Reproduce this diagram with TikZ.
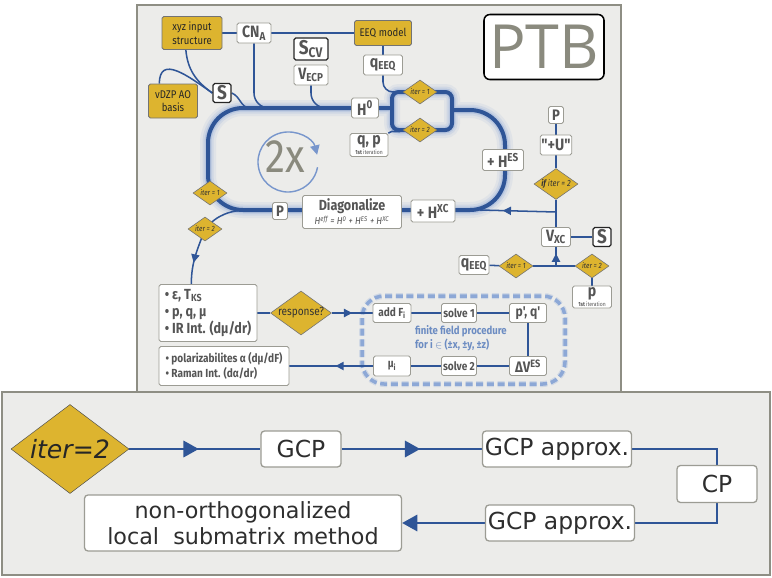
\documentclass[tikz,border=0pt]{standalone}
\usepackage{fontspec}
\setmainfont{DejaVu Sans}
\newfontfamily\cf[FakeStretch=0.86]{Fira Sans}
\newfontfamily\ptbfont{Open Sans}
\usetikzlibrary{arrows.meta,shapes.geometric,decorations.markings}

\definecolor{lineblue}{HTML}{2F5597}
\definecolor{glowblue}{HTML}{8FA9D8}
\definecolor{dashblue}{HTML}{7D9DD3}
\definecolor{ffblue}{HTML}{6C8CC2}
\definecolor{ringblue}{HTML}{7896CC}
\definecolor{gold}{HTML}{DDB42F}
\definecolor{panelfill}{HTML}{ECECEA}
\definecolor{paneldraw}{HTML}{8E8E84}
\definecolor{boxdraw}{HTML}{9C9C94}
\definecolor{txtgray}{HTML}{555555}
\definecolor{ptbgray}{HTML}{8A8A7E}

\pgfdeclarelayer{panel}
\pgfdeclarelayer{wires}
\pgfsetlayers{panel,wires,main}

\newcommand{\pxu}{0.03cm}
\newcommand{\fsz}[2]{\fontsize{#1}{#2}\selectfont}

\tikzset{
  wbox/.style={draw=boxdraw, fill=white, line width=0.7pt, rounded corners=1.5pt,
    inner sep=1pt, align=center, text=txtgray, font=\cf\bfseries\fsz{14}{15}},
  ybox/.style={wbox, fill=gold, draw=black!55, text=black!85, font=\cf\fsz{9.5}{11.5}},
  sbox/.style={wbox, draw=black!85, line width=1.1pt, font=\cf\bfseries\fsz{17}{17}},
  dia/.style={diamond, draw=black!55, fill=gold, line width=0.5pt, inner sep=0pt,
    shape aspect=1.4, minimum width=34*\pxu, minimum height=24*\pxu,
    text=black!80, font=\cf\itshape\fsz{6.5}{7}},
  conn/.style={lineblue, line width=1.3pt},
  midarr/.style={postaction={decorate}, decoration={markings,
    mark=at position #1 with {\arrow{Triangle[length=7pt,width=7pt]}}}},
  gbox/.style={draw=boxdraw, fill=white, line width=1.1pt, rounded corners=3pt,
    inner sep=2pt, align=center, text=black!82, font=\fsz{20}{22}},
  bline/.style={lineblue, line width=1.8pt},
  bigarr/.style={postaction={decorate}, decoration={markings,
    mark=at position #1 with {\arrow{Triangle[length=13pt,width=14pt]}}}},
}

\begin{document}
\begin{tikzpicture}[x=0.03cm, y=0.03cm, line cap=round, line join=round]
  % panels
  \begin{pgfonlayer}{panel}
    \fill[white] (0,0) rectangle (772,-577);
    \draw[fill=panelfill, draw=paneldraw, line width=1.7pt] (137,-5) rectangle (621,-392);
    \draw[fill=panelfill, draw=paneldraw, line width=1.7pt] (2,-392) rectangle (770,-575);
  \end{pgfonlayer}
  \useasboundingbox (0,0) rectangle (772,-577);

  % inputs
  \node[ybox, minimum width=60*\pxu, minimum height=33*\pxu] (xyz) at (192,-33) {xyz input\\structure};
  \node[wbox, minimum width=34*\pxu, minimum height=20*\pxu] (cna) at (254,-33) {CN\textsubscript{A}};
  \node[ybox, minimum width=57*\pxu, minimum height=25*\pxu] (eeq) at (383,-33) {EEQ model};
  \node[sbox, minimum width=34*\pxu, minimum height=22*\pxu] (scv) at (311,-49) {S\textsubscript{CV}};
  \node[wbox, minimum width=34*\pxu, minimum height=20*\pxu] (vecp) at (311,-75) {V\textsubscript{ECP}};
  \node[wbox, minimum width=39*\pxu, minimum height=20*\pxu] (qeeq) at (383,-65) {q\textsubscript{EEQ}};
  \node[ybox, minimum width=49*\pxu, minimum height=34*\pxu] (vdzp) at (173,-101) {vDZP AO\\basis};
  \node[sbox, minimum width=18*\pxu, minimum height=19*\pxu] (sao) at (222,-93) {S};
  \node[wbox, minimum width=27*\pxu, minimum height=20*\pxu] (hzero) at (365,-108) {H\textsuperscript{0}};
  \node[dia] (ita) at (420,-92) {iter = 1};
  \node[dia] (itb) at (420,-130) {iter = 2};
  \node[wbox, minimum width=38*\pxu, minimum height=23*\pxu] (qp) at (369,-145)
    {q, p\\[-6pt]{\fsz{5}{5}1st \mdseries iteration}};

  % loop
  \node[wbox, minimum width=41*\pxu, minimum height=21*\pxu] (hes) at (503,-160) {+ H\textsuperscript{ES}};
  \node[wbox, minimum width=44*\pxu, minimum height=22*\pxu] (hxc) at (433,-211) {+ H\textsuperscript{XC}};
  \node[wbox, minimum width=99*\pxu, minimum height=33*\pxu, font=\cf\bfseries\fsz{12.5}{12}] (diag) at (352,-212)
    {Diagonalize\\{\mdseries\itshape\fsz{8.5}{9}H\textsuperscript{eff} = H\textsuperscript{0} + H\textsuperscript{ES} + H\textsuperscript{XC}}};
  \node[wbox, minimum width=15*\pxu, minimum height=17*\pxu, font=\cf\bfseries\fsz{13}{13}] (pdl) at (280,-211) {P};
  \node[dia] (itl) at (210,-193) {iter = 1};
  \node[dia] (itm) at (205,-229) {iter = 2};
  \node[text=ptbgray, font=\cf\fsz{40}{40}] (twox) at (285,-157) {2x};
  \coordinate (ring) at (288,-162);

  % exchange-correlation
  \node[wbox, minimum width=15*\pxu, minimum height=17*\pxu, font=\cf\bfseries\fsz{13}{13}] (pup) at (556,-115) {P};
  \node[wbox, minimum width=30*\pxu, minimum height=20*\pxu] (plusu) at (556,-145) {"+U"};
  \node[dia, minimum width=44*\pxu, minimum height=31*\pxu, font=\cf\itshape\fsz{7.5}{8}] (ifit) at (556,-184) {\textbf{if} iter = 2};
  \node[wbox, minimum width=29*\pxu, minimum height=19*\pxu] (vxc) at (556,-237) {V\textsubscript{XC}};
  \node[sbox, minimum width=18*\pxu, minimum height=19*\pxu] (sxc) at (602,-237) {S};
  \node[wbox, minimum width=30*\pxu, minimum height=19*\pxu] (qeeqb) at (474,-265) {q\textsubscript{EEQ}};
  \node[dia] (itc) at (516,-266) {iter = 1};
  \node[dia] (itd) at (592,-266) {iter = 2};
  \node[wbox, minimum width=39*\pxu, minimum height=22*\pxu] (pfirst) at (592,-297)
    {p\\[-6pt]{\fsz{5}{5}1st \mdseries iteration}};
  \coordinate (jxc) at (556,-212);
  \coordinate (jlp) at (480,-210);
  \coordinate (jq) at (556,-266);

  % results and response
  \node[wbox, align=left, minimum width=98*\pxu, minimum height=57*\pxu, font=\cf\bfseries\fsz{12.5}{14.5}] (res) at (208,-313)
    {• ε, T\textsubscript{KS}\\• p, q, μ\\• IR Int. (dμ/dr)};
  \node[dia, minimum width=61*\pxu, minimum height=44*\pxu, font=\cf\fsz{10}{10}] (resp) at (301,-313) {response?};
  \node[wbox, minimum width=38*\pxu, minimum height=19*\pxu, font=\cf\bfseries\fsz{10}{11}] (addf) at (392,-313) {add F\textsubscript{i}};
  \node[wbox, minimum width=35*\pxu, minimum height=19*\pxu, font=\cf\bfseries\fsz{10}{11}] (solvea) at (459,-313) {solve 1};
  \node[wbox, minimum width=37*\pxu, minimum height=19*\pxu, font=\cf\bfseries\fsz{12}{12}] (pq) at (528,-313) {p', q'};
  \node[wbox, minimum width=37*\pxu, minimum height=19*\pxu, font=\cf\bfseries\fsz{13}{13}] (dves) at (528,-366) {ΔV\textsuperscript{ES}};
  \node[wbox, minimum width=35*\pxu, minimum height=19*\pxu, font=\cf\bfseries\fsz{10}{11}] (solveb) at (459,-366) {solve 2};
  \node[wbox, minimum width=37*\pxu, minimum height=20*\pxu, font=\cf\bfseries\fsz{10}{11}] (mui) at (392,-366) {μ\textsubscript{i}};
  \node[wbox, align=left, minimum width=130*\pxu, minimum height=39*\pxu, font=\cf\bfseries\fsz{10}{13}] (pol) at (224,-366)
    {• polarizabilites α (dμ/dF)\\• Raman Int. (dα/dr)};
  \node[anchor=west, align=left, text=ffblue, font=\cf\bfseries\fsz{9.5}{12}] (ffp) at (411,-338)
    {finite field procedure\\for i $\in$ (±x, ±y, ±z)};

  \node[draw=black, line width=1.3pt, rounded corners=5pt, fill=white, minimum width=120*\pxu,
    minimum height=65*\pxu, text=ptbgray, font=\ptbfont\fsz{52}{52}] (ptb) at (544,-47) {PTB};

  % bottom panel
  \node[diamond, draw=black!70, fill=gold, shape aspect=1.33, inner sep=0pt, minimum width=118*\pxu,
    minimum height=89*\pxu, text=black!85, font=\itshape\fsz{21.5}{22}] (bdia) at (70,-449) {iter=2};
  \node[gbox, minimum width=80*\pxu, minimum height=36*\pxu] (gcp) at (301,-449) {GCP};
  \node[gbox, minimum width=149*\pxu, minimum height=36*\pxu] (gcpa) at (557,-449) {GCP approx.};
  \node[gbox, minimum width=80*\pxu, minimum height=37*\pxu] (cp) at (717,-484) {CP};
  \node[gbox, minimum width=149*\pxu, minimum height=36*\pxu] (gcpb) at (560,-523) {GCP approx.};
  \node[gbox, minimum width=317*\pxu, minimum height=56*\pxu, font=\fsz{19}{22}] (nono) at (243,-523)
    {non-orthogonalized\\local\ \ submatrix method};

  \begin{pgfonlayer}{wires}
    % SCF loop with glow
    \foreach \w/\c/\o in {16/glowblue/0.12, 11/glowblue/0.2, 7/glowblue/0.35, 4/lineblue/1}
      \draw[\c, opacity=\o, line width=\w*\pxu, rounded corners=1.05cm]
        (392,-108) -- (208,-108) -- (208,-210) -- (505,-210) -- (505,-110) -- (452,-110)
        [rounded corners=0.2cm] (392,-92) rectangle (452,-130);
    \coordinate (jS) at (250,-108);
    \coordinate (jcn) at (290,-108);
    \coordinate (jve) at (345,-108);
    \coordinate (jbl) at (250,-210);

    % finite field box
    \foreach \w/\o in {6/0.25, 3.5/0.8}
      \draw[dashblue, opacity=\o, line width=\w*\pxu, dash pattern=on 0.21cm off 0.11cm, rounded corners=0.66cm]
        (362,-296) rectangle (565,-384);

    % 2x ring
    \draw[ringblue, line width=1.2pt, {Triangle[length=8pt,width=8pt]}-]
      ([shift={(14:0.9cm)}]ring) arc[start angle=14, end angle=350, radius=0.9cm];

    % inputs
    \draw[conn] (xyz) -- (cna);
    \draw[conn] (cna) -- (eeq);
    \draw[conn] (eeq) -- (qeeq);
    \draw[conn, rounded corners=0.3cm] (qeeq.south) |- (ita.west);
    \draw[conn] (xyz.250) to[out=-85,in=145] (sao.west);
    \draw[conn] (vdzp.128) to[out=90,in=145,looseness=1.4] (sao.west);
    \draw[conn] (sao.east) to[out=-20,in=180] (jS);
    \draw[conn, rounded corners=0.45cm] (cna.south) |- (jcn);
    \draw[conn, rounded corners=0.45cm] (vecp.south) |- (jve);
    \draw[conn] (itb.west) to[out=-135,in=45] (qp.north east);

    % exchange-correlation
    \draw[conn] (pup) -- (plusu);
    \draw[conn] (plusu) -- (ifit);
    \draw[conn] (ifit) -- (vxc);
    \draw[conn, midarr=0.7] (jxc) -- (jlp);
    \draw[conn] (vxc) -- (sxc);
    \draw[conn] (qeeqb) -- (itc);
    \draw[conn] (itc) -- (itd);
    \draw[conn, midarr=0.65] (jq) -- (vxc);
    \draw[conn] (itd) -- (pfirst);

    % results and response
    \draw[conn] (jbl) to[out=180,in=50] (itm.center);
    \draw[conn, midarr=0.62] (itm.center) to[out=-110,in=90] (res.120);
    \draw[conn] (res) -- (resp);
    \draw[conn, midarr=0.5] (resp) -- (addf);
    \draw[conn] (addf) -- (solvea);
    \draw[conn] (solvea) -- (pq);
    \draw[conn] (pq) -- (dves);
    \draw[conn] (dves) -- (solveb);
    \draw[conn] (solveb) -- (mui);
    \draw[conn, midarr=0.45] (mui) -- (pol);

    % bottom panel
    \draw[bline, bigarr=0.53] (bdia) -- (gcp);
    \draw[bline, bigarr=0.56] (gcp) -- (gcpa);
    \draw[bline] (gcpa) -| (cp);
    \draw[bline] (cp) |- (gcpb);
    \draw[bline, -{Triangle[length=13pt,width=14pt]}] (gcpb) -- (nono);
  \end{pgfonlayer}
\end{tikzpicture}
\end{document}
